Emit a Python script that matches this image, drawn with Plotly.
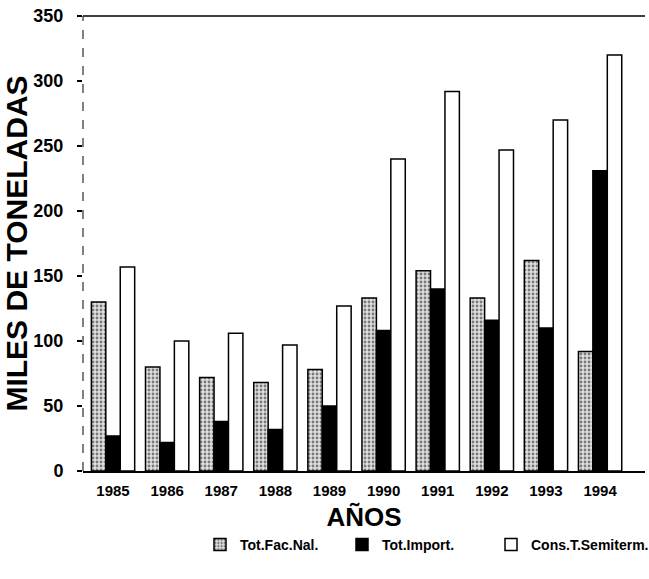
import plotly.graph_objects as go

years = ["1985", "1986", "1987", "1988", "1989", "1990", "1991", "1992", "1993", "1994"]
fac_nal = [130, 80, 72, 68, 78, 133, 154, 133, 162, 92]
importado = [27, 22, 38, 32, 50, 108, 140, 116, 110, 231]
semiterm = [157, 100, 106, 97, 127, 240, 292, 247, 270, 320]

x = list(range(len(years)))
FONT = "Liberation Sans Narrow, Arial Narrow, Liberation Sans, Arial, sans-serif"

fig = go.Figure()
fig.add_trace(go.Bar(
    x=x, y=fac_nal, name="Tot.Fac.Nal.", legend="legend",
    marker=dict(color="#d0d0d0", line=dict(color="black", width=1.5),
                pattern=dict(shape=".", fgcolor="#111", bgcolor="#e0e0e0", size=4, solidity=0.4)),
))
fig.add_trace(go.Bar(
    x=x, y=importado, name="Tot.Import.", legend="legend2",
    marker=dict(color="black", line=dict(color="black", width=1.5)),
))
fig.add_trace(go.Bar(
    x=x, y=semiterm, name="Cons.T.Semiterm.", legend="legend3",
    marker=dict(color="white", line=dict(color="black", width=1.5)),
))

L, R, T, B = 83, 4, 16, 108
W, H = 649, 579
pw, ph = W - L - R, H - T - B


def lx(px):
    return (px - L) / pw


def ly(py):
    return (H - B - py) / ph


leg_font = dict(family=FONT, size=14, color="black", weight="bold")
leg_common = dict(orientation="h", xanchor="left", yanchor="middle", y=ly(545),
                  font=leg_font, itemwidth=30, bgcolor="rgba(0,0,0,0)", borderwidth=0)

fig.update_layout(
    width=W, height=H,
    margin=dict(l=L, r=R, t=T, b=B, autoexpand=False),
    paper_bgcolor="white", plot_bgcolor="white",
    barmode="group", bargap=0.2, bargroupgap=0.0,
    font=dict(family=FONT, color="black"),
    showlegend=True,
    legend=dict(x=lx(200), **leg_common),
    legend2=dict(x=lx(342), **leg_common),
    legend3=dict(x=lx(491), **leg_common),
    xaxis=dict(
        range=[-0.555, 9.83], tickmode="array", tickvals=x, ticktext=years,
        showline=True, linecolor="black", linewidth=1.5, mirror=False,
        ticks="", showgrid=False, zeroline=False, ticklabelstandoff=5,
        tickfont=dict(family=FONT, size=15, color="black", weight="bold"),
        title=dict(text="AÑOS", font=dict(family=FONT, size=26, color="black", weight="bold"), standoff=10),
    ),
    yaxis=dict(
        range=[0, 350], tickmode="array", tickvals=[0, 50, 100, 150, 200, 250, 300, 350],
        showline=False, ticks="outside", ticklen=5, tickcolor="black", tickwidth=1.5,
        showgrid=False, zeroline=False, ticklabelstandoff=10,
        tickfont=dict(family=FONT, size=18, color="black", weight="bold"),
        title=dict(text="MILES DE TONELADAS",
                   font=dict(family="Liberation Sans, Arial, sans-serif", size=30, color="black", weight="bold"),
                   standoff=6),
    ),
    shapes=[
        dict(type="line", xref="paper", yref="paper", x0=0, x1=1, y0=1, y1=1,
             line=dict(color="black", width=1.5)),
        dict(type="line", xref="paper", yref="paper", x0=0, x1=0, y0=0, y1=1,
             line=dict(color="black", width=1, dash="dash")),
    ],
)

fig.write_html("out.html")
